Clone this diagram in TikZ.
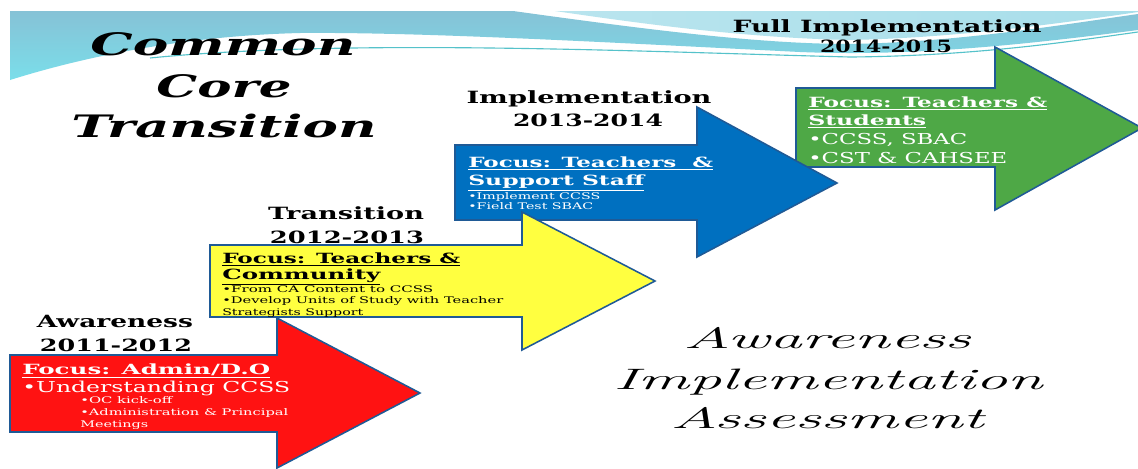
\documentclass[tikz,border=0pt]{standalone}
\usepackage{fontspec}
\usepackage{graphicx}
\newfontfamily\slidefont{DejaVu Serif}
\newdimen\pxu
\pxu=0.025cm
\newcommand\fitw[2]{\resizebox{#1\pxu}{\height}{#2}}
\def\stagearrow[#1](#2,#3,#4)(#5,#6,#7)(#8,#9){\draw[#1] (#2,#3) -- (#5,#3) -- (#5,#6) -- (#8,#9) -- (#5,#7) -- (#5,#4) -- (#2,#4) -- cycle;}
\definecolor{stagered}{RGB}{255,18,18}
\definecolor{stageyellow}{RGB}{255,255,64}
\definecolor{stageblue}{RGB}{0,112,192}
\definecolor{stagegreen}{RGB}{78,168,70}
\definecolor{edgeblue}{RGB}{31,90,150}
\definecolor{bannerdark}{RGB}{134,194,214}
\definecolor{bannercyan}{RGB}{122,222,234}
\definecolor{bannerlight}{RGB}{168,222,234}
\tikzset{
	arrowedge/.style={draw=edgeblue, line width=1.1pt, line join=miter},
	stagehead/.style={anchor=base, inner sep=0pt, font=\slidefont\bfseries\fontsize{12}{12}\selectfont},
	focusline/.style={anchor=base west, inner sep=0pt, font=\slidefont\bfseries\fontsize{10}{10}\selectfont},
	bigline/.style={anchor=base west, inner sep=0pt, font=\slidefont\fontsize{10.7}{11}\selectfont},
	smallline/.style={anchor=base west, inner sep=0pt, font=\slidefont\fontsize{6.5}{7}\selectfont},
	titleline/.style={anchor=base, inner sep=0pt, font=\slidefont\bfseries\itshape\fontsize{22}{22}\selectfont},
	mottoline/.style={anchor=base, inner sep=0pt, font=\itshape\fontsize{21}{21}\selectfont, text=black}
}
\begin{document}
\begin{tikzpicture}[x=0.025cm, y=-0.025cm]
			%%%%% START %%%%%
			\useasboundingbox[fill=white] (0,0) rectangle (1138,468);
			
			% banner
			\shade[top color=bannerdark, bottom color=bannercyan] (10,11) -- (513,11) .. controls (650,30) and (760,44) .. (850,44) .. controls (960,42) and (1060,25) .. (1138,14) -- (1138,30) .. controls (1000,48) and (900,56) .. (800,52) .. controls (600,42) and (420,32) .. (300,33) .. controls (180,36) and (80,58) .. (10,80) -- cycle;
			\shade[left color=bannerlight!80!white, right color=bannerlight] (555,11) -- (1138,11) -- (1138,12) .. controls (1050,25) and (950,38) .. (850,40) .. controls (750,38) and (650,25) .. (555,11) -- cycle;
			\draw[bannercyan!70!teal, line width=0.8pt] (150,58) .. controls (350,38) and (650,52) .. (850,57) .. controls (980,56) and (1080,40) .. (1138,32);
			
			% arrows
			\stagearrow[arrowedge, fill=stagegreen](796,88,167)(995,47,210)(1142,128)
			\stagearrow[arrowedge, fill=stageblue](455,145,220)(697,107,257)(837,183)
			\stagearrow[arrowedge, fill=stageyellow](210,245,317)(522,212,350)(655,281)
			\stagearrow[arrowedge, fill=stagered](10,355,432)(277,318,468)(420,393)
			
			% title
			\node[titleline] (common) at (223,55) {\fitw{265}{Common}};
			\node[titleline] (core) at (224,97) {\fitw{135}{Core}};
			\node[titleline] (transition) at (224,137) {\fitw{305}{Transition}};
			
			% stage headings
			\node[stagehead] (awareHead) at (115,327) {\fitw{156}{Awareness}};
			\node[stagehead] (awareYears) at (116,351) {\fitw{152}{2011-2012}};
			\node[stagehead] (transHead) at (346,219) {\fitw{156}{Transition}};
			\node[stagehead] (transYears) at (347,243) {\fitw{154}{2012-2013}};
			\node[stagehead] (implHead) at (589,103) {\fitw{245}{Implementation}};
			\node[stagehead] (implYears) at (588,126) {\fitw{150}{2013-2014}};
			\node[stagehead] (fullHead) at (887,32) {\fitw{309}{Full Implementation}};
			\node[stagehead] (fullYears) at (886,52) {\fitw{132}{2014-2015}};
			
			% red arrow
			\node[focusline, text=white] (redFocus) at (22,374) {\fitw{248}{\underline{Focus: Admin/D.O}}};
			\node[bigline, text=white] (redOne) at (22,392) {\fitw{268}{•Understanding CCSS}};
			\node[smallline, text=white] (redTwo) at (80,403) {\fitw{92}{•OC kick-off}};
			\node[smallline, text=white] (redThree) at (80,415) {\fitw{208}{•Administration \& Principal}};
			\node[smallline, text=white] (redFour) at (80,427) {\fitw{68}{Meetings}};
			
			% yellow arrow
			\node[focusline] (yellowFocus) at (222,263) {\fitw{238}{\underline{Focus: Teachers \&}}};
			\node[focusline] (yellowFocusB) at (222,279) {\fitw{158}{\underline{Community}}};
			\node[smallline] (yellowOne) at (222,292) {\fitw{211}{•From CA Content to CCSS}};
			\node[smallline] (yellowTwo) at (222,303) {\fitw{281}{•Develop Units of Study with Teacher}};
			\node[smallline] (yellowThree) at (222,315) {\fitw{141}{Strategists Support}};
			
			% blue arrow
			\node[focusline, text=white] (blueFocus) at (468,167) {\fitw{245}{\underline{Focus: Teachers~~\&}}};
			\node[focusline, text=white] (blueFocusB) at (468,185) {\fitw{176}{\underline{Support Staff}}};
			\node[smallline, text=white] (blueOne) at (468,199) {\fitw{132}{•Implement CCSS}};
			\node[smallline, text=white] (blueTwo) at (468,209) {\fitw{125}{•Field Test SBAC}};
			
			% green arrow
			\node[focusline, text=white] (greenFocus) at (808,107) {\fitw{239}{\underline{Focus: Teachers \&}}};
			\node[focusline, text=white] (greenFocusB) at (808,125) {\fitw{118}{\underline{Students}}};
			\node[bigline, text=white] (greenOne) at (808,144) {\fitw{159}{•CCSS, SBAC}};
			\node[bigline, text=white] (greenTwo) at (808,163) {\fitw{199}{•CST \& CAHSEE}};
			
			% motto
			\node[mottoline] (mottoA) at (827,348) {\fitw{287}{Awareness}};
			\node[mottoline] (mottoI) at (828,389) {\fitw{429}{Implementation}};
			\node[mottoline] (mottoS) at (827,428) {\fitw{313}{Assessment}};
			%%%%% END %%%%%
\end{tikzpicture}
\end{document}
